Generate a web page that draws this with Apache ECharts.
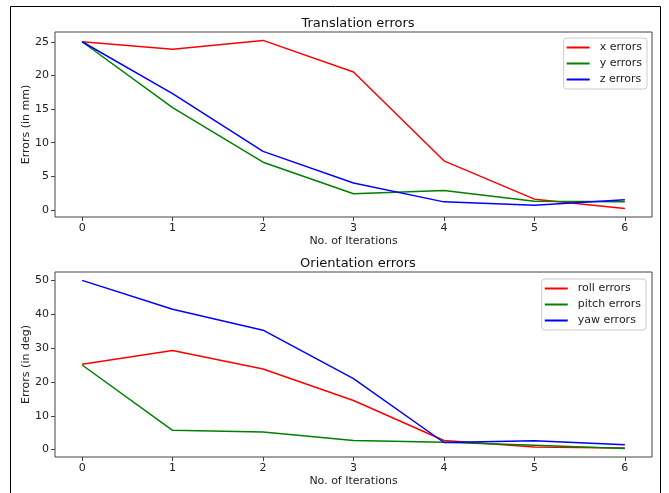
<!DOCTYPE html>
<html>
<head>
<meta charset="utf-8">
<script src="https://cdn.jsdelivr.net/npm/echarts@6/dist/echarts.min.js"></script>
<style>
html,body{margin:0;padding:0;background:#fff;}
#chart{width:669px;height:493px;}
</style>
</head>
<body>
<div id="chart"></div>
<script>
// ---- data ----
const iterations = [0, 1, 2, 3, 4, 5, 6];
const xErrors = [25.0, 23.9, 25.2, 20.5, 7.3, 1.6, 0.2];
const yErrors = [25.0, 15.2, 7.1, 2.4, 2.9, 1.3, 1.2];
const zErrors = [25.0, 17.3, 8.7, 4.0, 1.2, 0.7, 1.5];
const rollErrors = [25.2, 29.3, 23.8, 14.5, 2.7, 0.8, 0.5];
const pitchErrors = [25.0, 5.7, 5.2, 2.7, 2.2, 1.3, 0.3];
const yawErrors = [50.0, 41.5, 35.3, 21.0, 2.1, 2.6, 1.4];
const xTicks = [0, 1, 2, 3, 4, 5, 6];
const yTicksTop = [0, 5, 10, 15, 20, 25];
const yTicksBottom = [0, 10, 20, 30, 40, 50];

const FONT = 'DejaVu Sans';
const FS = 11;
const pairs = arr => iterations.map((x, i) => [x, arr[i]]);

function xAxisCfg(grid) {
  return {
    type: 'value', gridIndex: grid, min: -0.3, max: 6.3,
    name: 'No. of Iterations', nameLocation: 'middle', nameGap: 19, nameMoveOverlap: false,
    nameTextStyle: {fontFamily: FONT, fontSize: FS, color: '#222'},
    axisLine: {show: false, onZero: false},
    splitLine: {show: false},
    axisTick: {show: true, length: 4, customValues: xTicks, lineStyle: {color: '#444'}},
    axisLabel: {customValues: xTicks, margin: 6, fontFamily: FONT, fontSize: FS, color: '#222'}
  };
}
function yAxisCfg(grid, min, max, ticks, name) {
  return {
    type: 'value', gridIndex: grid, min: min, max: max,
    name: name, nameLocation: 'middle', nameGap: 23, nameRotate: 90, nameMoveOverlap: false,
    nameTextStyle: {fontFamily: FONT, fontSize: FS, color: '#222'},
    axisLine: {show: false, onZero: false},
    splitLine: {show: false},
    axisTick: {show: true, length: 4, customValues: ticks, lineStyle: {color: '#444'}},
    axisLabel: {customValues: ticks, margin: 6, fontFamily: FONT, fontSize: FS, color: '#222'}
  };
}
function line(name, data, color, xi) {
  return {
    type: 'line', name: name, data: pairs(data), xAxisIndex: xi, yAxisIndex: xi,
    showSymbol: false, symbol: 'none', animation: false,
    lineStyle: {color: color, width: 1.5}, itemStyle: {color: color}
  };
}
function legendCfg(names, top, right) {
  return {
    data: names, orient: 'vertical', top: top, right: right,
    icon: 'rect', itemWidth: 23, itemHeight: 2, itemGap: 3,
    backgroundColor: '#fff', borderColor: '#ccc', borderWidth: 1, borderRadius: 3,
    padding: [3, 5, 3, 3],
    textStyle: {fontFamily: FONT, fontSize: FS, color: '#222', lineHeight: 13, padding: [0, 0, 0, 5]}
  };
}

const chart = echarts.init(document.getElementById('chart'));
chart.setOption({
  animation: false,
  backgroundColor: '#fff',
  title: [
    {text: 'Translation errors', left: 353, top: 12, textAlign: 'center',
     textStyle: {fontFamily: FONT, fontSize: 13, fontWeight: 'normal', color: '#111'}},
    {text: 'Orientation errors', left: 353, top: 252, textAlign: 'center',
     textStyle: {fontFamily: FONT, fontSize: 13, fontWeight: 'normal', color: '#111'}}
  ],
  grid: [
    {left: 55, top: 32, width: 597, height: 185, show: true, borderColor: '#444', borderWidth: 1, backgroundColor: 'transparent'},
    {left: 55, top: 272, width: 597, height: 185, show: true, borderColor: '#444', borderWidth: 1, backgroundColor: 'transparent'}
  ],
  xAxis: [xAxisCfg(0), xAxisCfg(1)],
  yAxis: [
    yAxisCfg(0, -1.05, 26.45, yTicksTop, 'Errors (in mm)'),
    yAxisCfg(1, -2.185, 52.485, yTicksBottom, 'Errors (in deg)')
  ],
  legend: [
    legendCfg(['x errors', 'y errors', 'z errors'], 38, 22),
    legendCfg(['roll errors', 'pitch errors', 'yaw errors'], 279, 23)
  ],
  graphic: [
    {type: 'rect', shape: {x: 10.5, y: 6.5, width: 650, height: 500}, style: {fill: 'none', stroke: '#000', lineWidth: 1}, silent: true}
  ],
  series: [
    line('x errors', xErrors, '#ff0000', 0),
    line('y errors', yErrors, '#008000', 0),
    line('z errors', zErrors, '#0000ff', 0),
    line('roll errors', rollErrors, '#ff0000', 1),
    line('pitch errors', pitchErrors, '#008000', 1),
    line('yaw errors', yawErrors, '#0000ff', 1)
  ]
});
</script>
</body>
</html>
